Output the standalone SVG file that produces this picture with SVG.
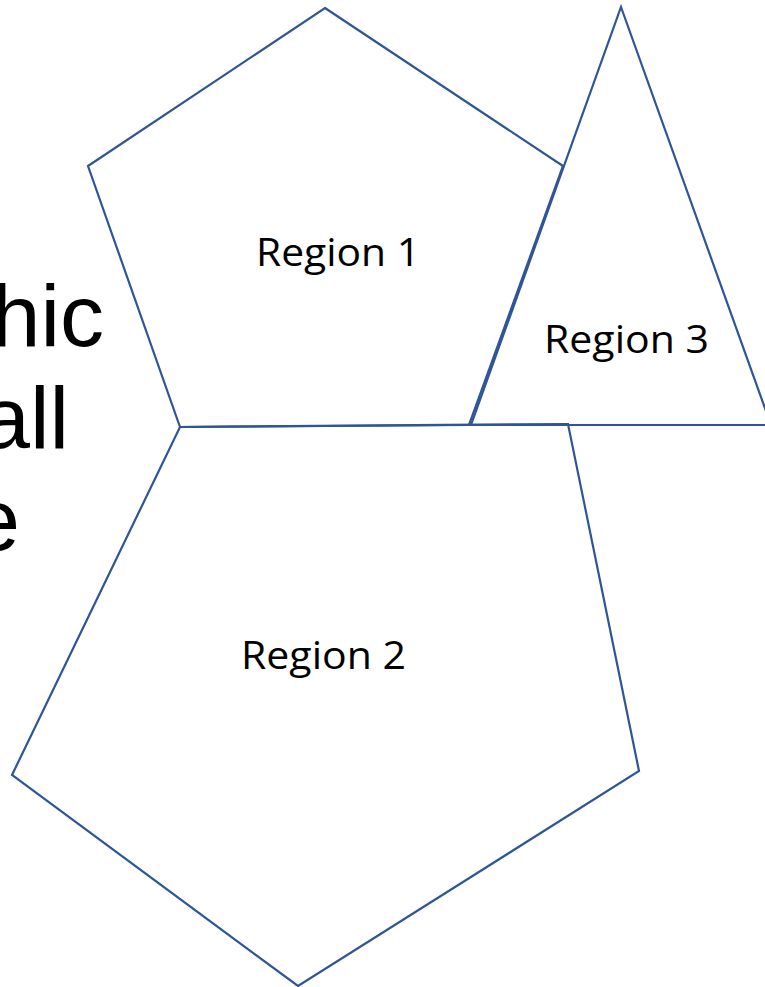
<svg xmlns="http://www.w3.org/2000/svg" width="765" height="987" viewBox="0 0 765 987">
<style>
.shape{fill:none;stroke:#2F5597;stroke-width:2.2;stroke-linejoin:miter}
.lbl{font-family:"Open Sans","Noto Sans",sans-serif;font-size:39px;fill:#000}
.big{font-family:"Liberation Sans",Arial,sans-serif;font-size:88px;fill:#000;text-anchor:end}
</style>
<rect width="765" height="987" fill="#fff"/>
<g id="bg-text">
<text class="big" x="104" y="346">hic</text>
<text class="big" x="69" y="448">all</text>
<text class="big" x="20" y="550">e</text>
</g>
<g id="region2">
<polygon class="shape" points="180,427 568,424 639,771 298,986 12,775"/>
<text class="lbl" x="241" y="669" textLength="165" lengthAdjust="spacingAndGlyphs">Region 2</text>
</g>
<g id="region3">
<polygon class="shape" points="621,7 771,425 471,425"/>
<text class="lbl" x="544" y="353" textLength="165" lengthAdjust="spacingAndGlyphs">Region 3</text>
</g>
<g id="region1">
<polygon class="shape" points="325,8 563,166 469,425 180,427 88,166"/>
<text class="lbl" x="256" y="266" textLength="164" lengthAdjust="spacingAndGlyphs">Region 1</text>
</g>
</svg>
